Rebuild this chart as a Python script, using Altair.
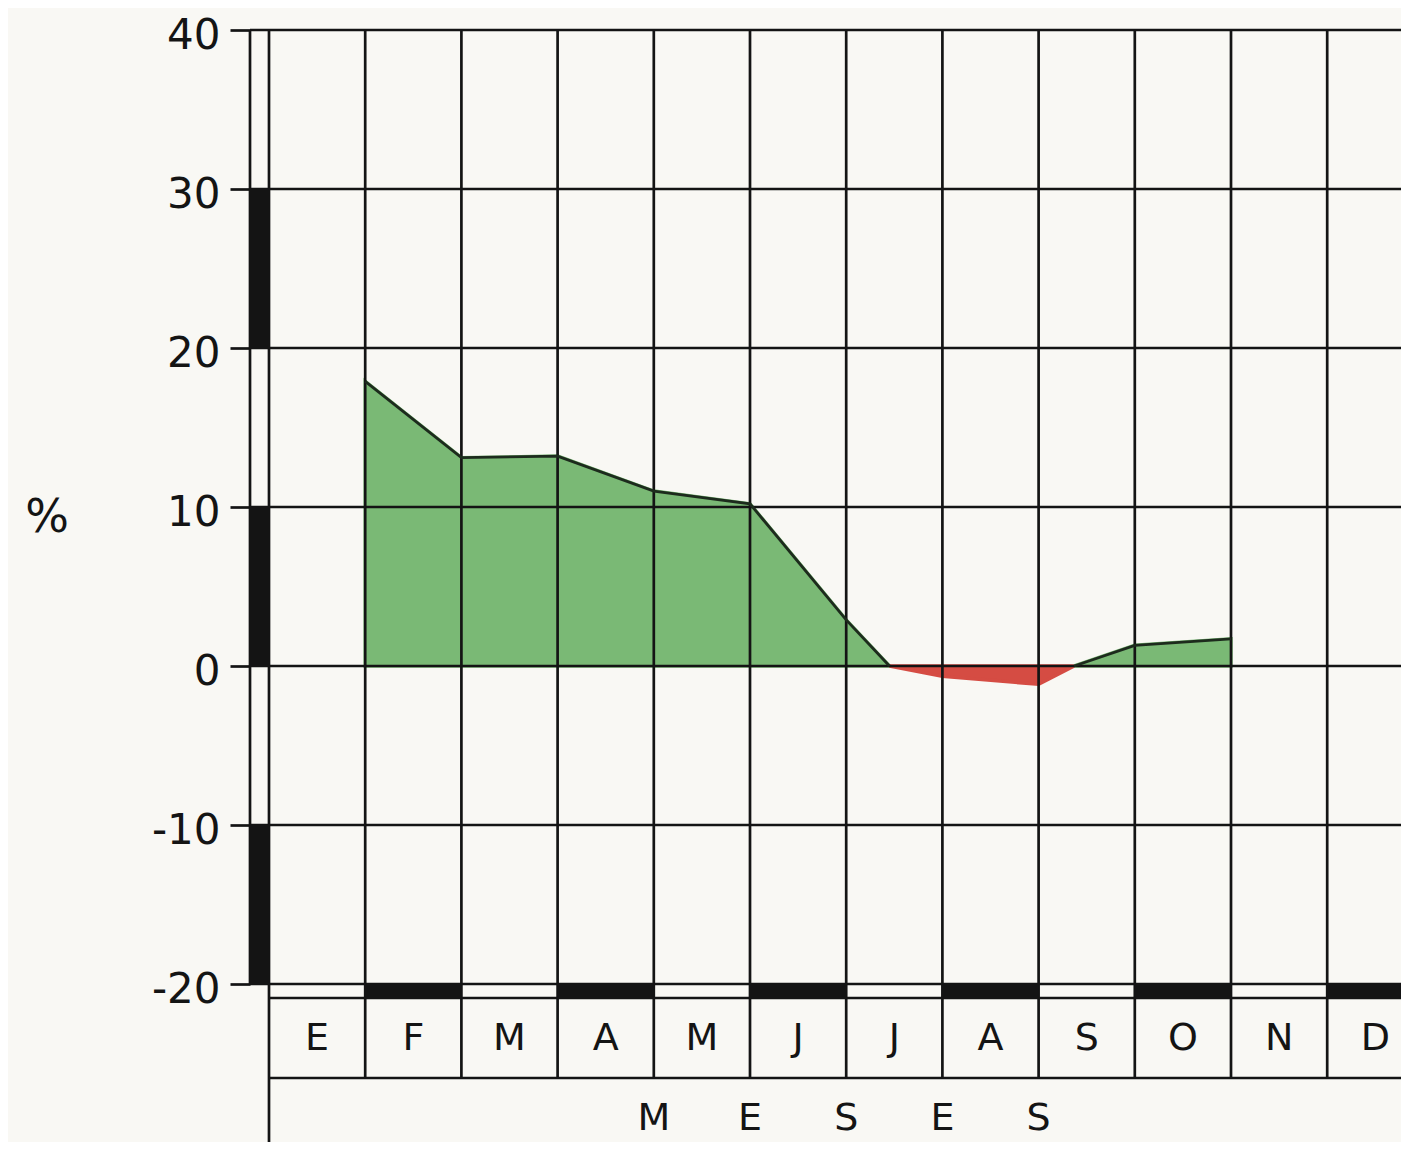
import altair as alt
import pandas as pd

# ---------------- data ----------------
months = ["E", "F", "M", "A", "M", "J", "J", "A", "S", "O", "N", "D"]
month_pos = [1, 2, 3, 4, 5, 6, 6.45, 7, 8, 8.37, 9, 10]
pct = [17.9, 13.1, 13.2, 11.0, 10.2, 2.9, 0.0, -0.65, -1.15, 0.0, 1.3, 1.7]
y_ticks = [-20, -10, 0, 10, 20, 30, 40]
left_bar_tops = [30, 10, -10]
bottom_bar_months = [1, 3, 5, 7, 9, 11]
axis_word = ["M", "E", "S", "E", "S"]
axis_word_pos = [4, 5, 6, 7, 8]

# ---------------- layout ----------------
PX = 96.2          # pixels per month
W, H = 1132, 954
XMAX = W / PX
INK = "#141414"
GREEN = "#74b66f"
RED = "#d4433a"
FONT = "DejaVu Sans"
LW = 2.7

# split profile into sign segments at zero crossings
segs, cur = [], []
for x, v in zip(month_pos, pct):
    cur.append((x, v))
    if v == 0 and len(cur) > 1:
        segs.append(cur)
        cur = [(x, v)]
if len(cur) > 1:
    segs.append(cur)
rows = []
for i, s in enumerate(segs):
    sign = "pos" if max(v for _, v in s) > 0 else "neg"
    for x, v in s:
        rows.append(dict(m=x, v=v, seg=i, sign=sign, base=0))
prof = pd.DataFrame(rows)

xscale = alt.Scale(domain=[0, XMAX], nice=False, zero=False)
yscale = alt.Scale(domain=[-20, 40], nice=False, zero=False)
yaxis = alt.Axis(
    values=y_ticks, title=None, domain=False, grid=False,
    ticks=True, tickSize=20, tickWidth=LW, tickColor=INK, offset=19,
    labelFont=FONT, labelFontSize=42, labelColor=INK, labelPadding=10,
    labelBaseline="middle", labelOffset=5,
    labelExpr="datum.value < 0 ? '-' + abs(datum.value) : '' + datum.value",
)


def X(f):
    return alt.X(f, type="quantitative", scale=xscale, axis=None)


def Y(f):
    return alt.Y(f, type="quantitative", scale=yscale, axis=yaxis)


sign_scale = alt.Scale(domain=["pos", "neg"], range=[GREEN, RED])
area = alt.Chart(prof).mark_area(opacity=0.95, strokeWidth=3.5).encode(
    x=X("m"), y=Y("v"), y2=alt.Y2("base"),
    color=alt.Color("sign:N", scale=sign_scale, legend=None),
    stroke=alt.Stroke("sign:N", scale=sign_scale, legend=None),
    detail="seg:N",
)

outline = alt.Chart(prof).transform_filter("datum.sign == 'pos'").mark_line(
    color="#1d2b1d", strokeWidth=2.8
).encode(x=X("m"), y=Y("v"), detail="seg:N")

hgrid = alt.Chart(pd.DataFrame({"t": y_ticks})).mark_rule(color=INK, strokeWidth=LW).encode(
    y=Y("t"), x=alt.value(-19), x2=alt.value(W)
)

vgrid = alt.Chart(pd.DataFrame({"k": list(range(1, 12))})).mark_rule(color=INK, strokeWidth=LW).encode(
    x=X("k"), y=alt.value(0), y2=alt.value(1048)
)

frame_df = pd.DataFrame({"a": [0]})
left_outer = alt.Chart(frame_df).mark_rule(color=INK, strokeWidth=LW).encode(
    x=alt.value(-19), y=alt.value(0), y2=alt.value(H)
)
left_inner = alt.Chart(frame_df).mark_rule(color=INK, strokeWidth=LW).encode(
    x=alt.value(0), y=alt.value(0), y2=alt.value(1140)
)
line_998 = alt.Chart(frame_df).mark_rule(color=INK, strokeWidth=LW).encode(
    y=alt.value(968), x=alt.value(0), x2=alt.value(W)
)
line_1078 = alt.Chart(frame_df).mark_rule(color=INK, strokeWidth=LW).encode(
    y=alt.value(1048), x=alt.value(0), x2=alt.value(W)
)

lbars = alt.Chart(pd.DataFrame({"top": left_bar_tops, "bot": [t - 10 for t in left_bar_tops]})).mark_rect(
    color=INK
).encode(x=alt.value(-18), x2=alt.value(-1), y=Y("top"), y2=alt.Y2("bot"))

bbars = alt.Chart(pd.DataFrame({"k": bottom_bar_months, "k2": [k + 1 for k in bottom_bar_months]})).mark_rect(
    color=INK
).encode(x=X("k"), x2=alt.X2("k2"), y=alt.value(955), y2=alt.value(968))

mlabels = alt.Chart(pd.DataFrame({"c": [i + 0.5 for i in range(12)], "lab": months})).mark_text(
    font=FONT, fontSize=38, color=INK, baseline="middle", align="center"
).encode(x=X("c"), y=alt.value(1009), text="lab:N")

word = alt.Chart(pd.DataFrame({"p": axis_word_pos, "lab": axis_word})).mark_text(
    font=FONT, fontSize=38, color=INK, baseline="middle", align="center"
).encode(x=X("p"), y=alt.value(1089), text="lab:N")

pct_label = alt.Chart(frame_df).mark_text(
    font=FONT, fontSize=46, color=INK, baseline="middle", align="center"
).encode(x=alt.value(-222), y=alt.value(488), text=alt.value("%"))

chart = alt.layer(
    area, hgrid, vgrid, left_outer, left_inner, line_998, line_1078,
    lbars, bbars, outline, mlabels, word, pct_label
).properties(
    width=W, height=H,
    autosize=alt.AutoSizeParams(type="none"),
    padding={"left": 261, "top": 22, "right": 0, "bottom": 158},
).configure(background="#f9f8f4").configure_view(stroke=None)

chart.save("out.html", embed_options={"renderer": "svg", "actions": False})
